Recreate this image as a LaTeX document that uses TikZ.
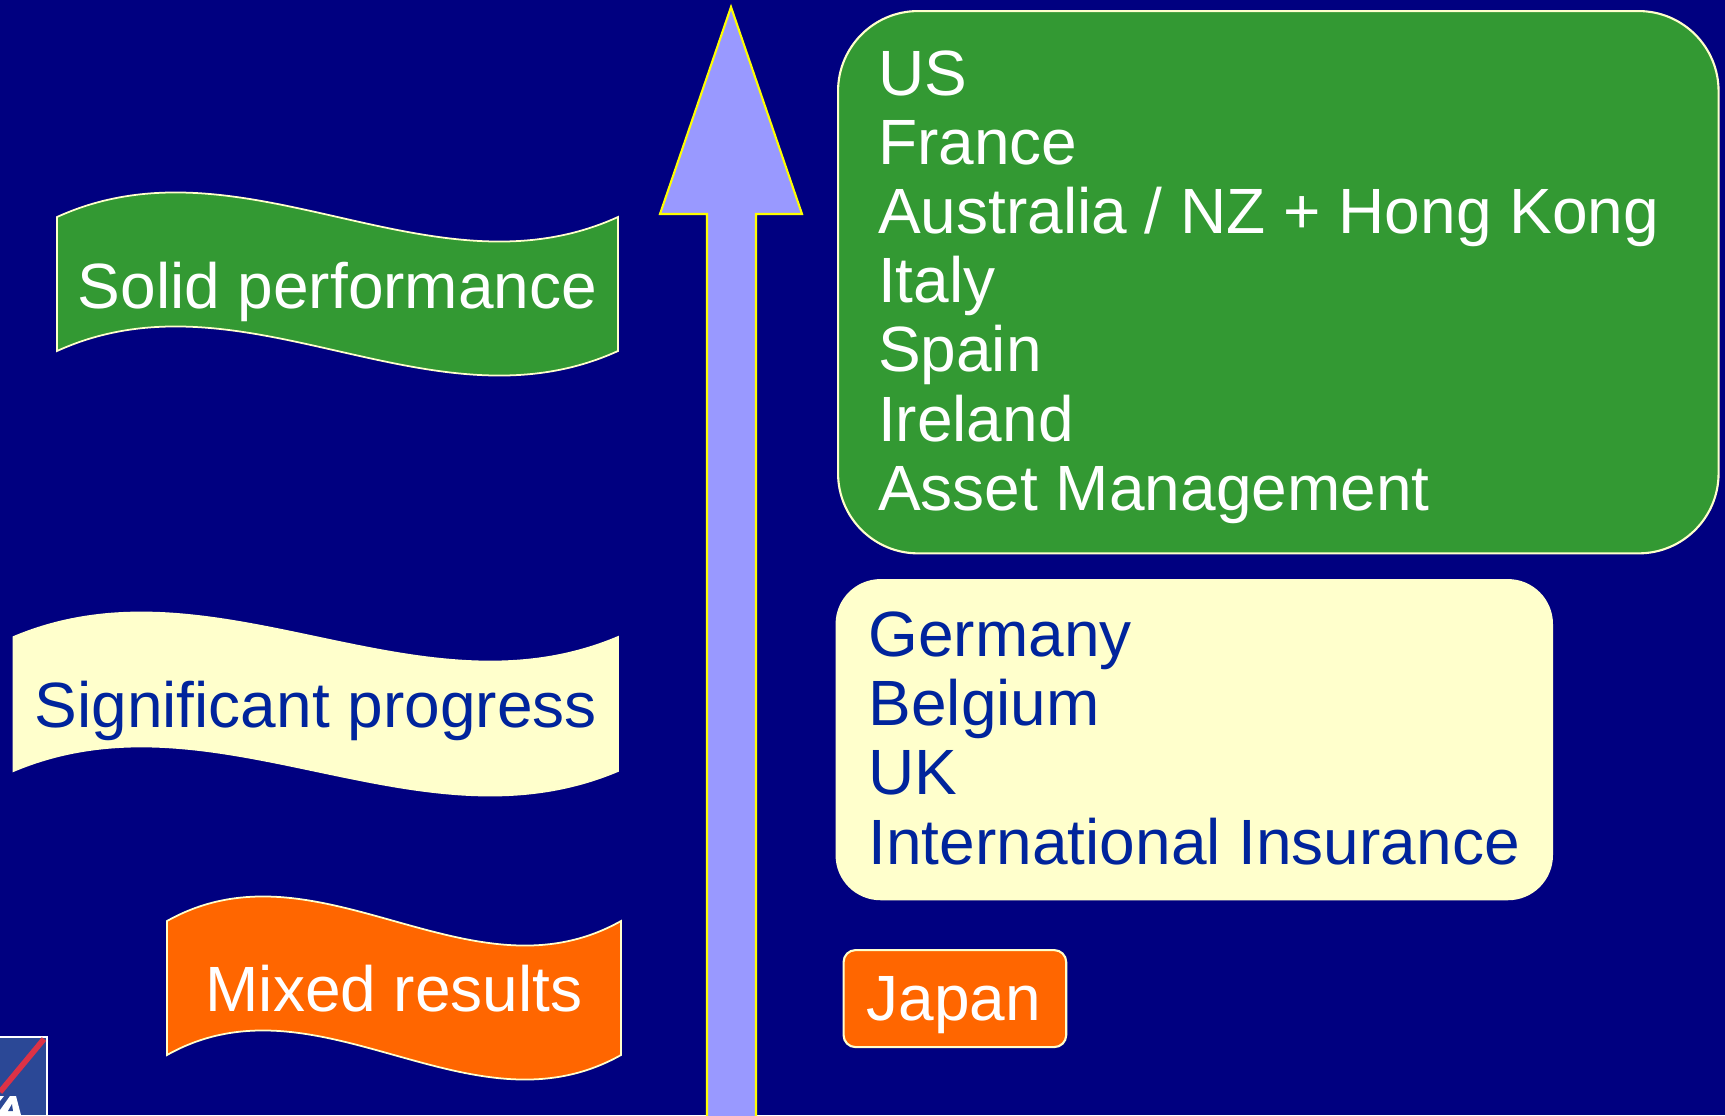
\documentclass[tikz,border=0pt]{standalone}
\usepackage{fontspec}
\setmainfont{Liberation Sans}
\definecolor{fondo}{RGB}{0,0,128}
\definecolor{verde}{RGB}{51,153,51}
\definecolor{crema}{RGB}{255,255,204}
\definecolor{naranja}{RGB}{255,102,0}
\definecolor{lila}{RGB}{153,153,255}
\definecolor{azultxt}{RGB}{0,36,156}
\definecolor{amarillo}{RGB}{255,255,0}
\definecolor{azullogo}{RGB}{43,72,150}
\definecolor{rojologo}{RGB}{220,50,70}
\newcommand{\linea}[1]{\mbox{\spaceskip=5.06pt #1}}
\tikzset{
  textgrande/.style = {font=\fontsize{18.2pt}{19.67pt}\selectfont, inner sep=0pt},
  caja/.style = {draw=crema, line width=0.6pt, textgrande, align=left, anchor=north west},
}
\begin{document}
\begin{tikzpicture}[x = 0.01cm, y = -0.01cm]
    % Fondo
    \fill[fondo] (0,0) rectangle (1725,1115);
    \useasboundingbox (0,0) rectangle (1725,1115);

    % Flecha
    \draw[fill=lila, draw=amarillo, line width=0.6pt]
        (731,7) -- (802,214) -- (756,214) -- (756,1125) -- (707,1125) -- (707,214) -- (660,214) -- cycle;

    % Banderas
    \foreach \nom/\xa/\ya/\xb/\ybase/\relleno/\colortxt/\txt in {
        solid/57/217/618/308/verde/white/Solid performance,
        signif/13.5/637/618/727/crema/azultxt/Significant progress,
        mixed/167/921/621/1011/naranja/white/Mixed results} {
        \pgfmathsetmacro{\xc}{\xa + (\xb-\xa)/3}
        \pgfmathsetmacro{\xd}{\xa + 2*(\xb-\xa)/3}
        \pgfmathsetmacro{\xm}{(\xa+\xb)/2}
        \draw[fill=\relleno, draw=crema, line width=0.5pt]
            (\xa,\ya) .. controls (\xc,\ya-85) and (\xd,\ya+85) .. (\xb,\ya)
            -- (\xb,\ya+134) .. controls (\xd,\ya+219) and (\xc,\ya+49) .. (\xa,\ya+134) -- cycle;
        \node[textgrande, text=\colortxt, anchor=base] (\nom) at (\xm,\ybase) {\txt};
    }

    % Cajas
    \node[caja, fill=verde, text=white, rounded corners=0.8cm, minimum width=8.8cm, minimum height=5.42cm,
          text width=8cm, inner xsep=0.4cm] (verdes) at (837,10)
        {\rule{0pt}{15.5pt}US\\France\\\linea{Australia / NZ + Hong Kong}\\Italy\\Spain\\Ireland\\\linea{Asset Management}};
    \node[caja, draw=none, fill=crema, text=azultxt, rounded corners=0.45cm, minimum width=7.17cm, minimum height=3.21cm,
          text width=6.51cm, inner xsep=0.33cm] (cremas) at (834.5,578)
        {Germany\\Belgium\\UK\\\linea{International Insurance}\rule[-1pt]{0pt}{1pt}};
    \node[caja, fill=naranja, text=white, rounded corners=0.12cm, minimum width=2.225cm, minimum height=0.97cm,
          text width=1.765cm, inner xsep=0.23cm] (japon) at (842.5,949)
        {\rule{0pt}{16.1pt}Japan};

    % Logo
    \fill[azullogo] (0,1037) rectangle (47,1115);
    \draw[white, line width=0.5pt] (0,1037) -- (47,1037) -- (47,1115);
    \draw[rojologo, line width=1.6pt] (44,1039) -- (0,1092);
    \fill[white] (0,1096) -- (4,1096) -- (0,1101) -- cycle;
    \fill[white] (10,1096) -- (16,1096) -- (21,1115) -- (0,1115) -- (0,1110) -- cycle;
    \fill[azullogo] (12,1104) -- (13,1111) -- (8,1111) -- cycle;
\end{tikzpicture}
\end{document}
